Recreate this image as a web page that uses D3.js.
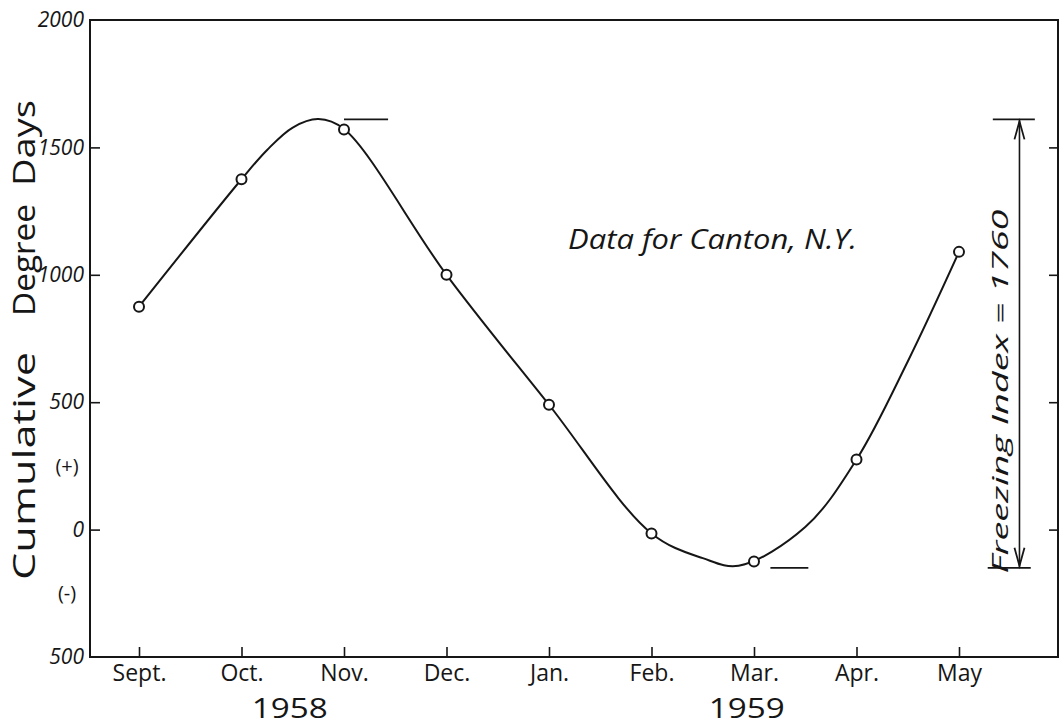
<!DOCTYPE html>
<html>
<head>
<meta charset="utf-8">
<script src="https://cdn.jsdelivr.net/npm/d3@7"></script>
<style>
  body { margin: 0; background: #fff; }
  text { font-family: "Open Sans", "DejaVu Sans", sans-serif; fill: #161616; }
</style>
</head>
<body>
<script>
const width = 1059;
const height = 728;
const frame = {left: 90, right: 1058, top: 20, bottom: 657};

const months = ["Sept.", "Oct.", "Nov.", "Dec.", "Jan.", "Feb.", "Mar.", "Apr.", "May"];
const values = [875, 1375, 1570, 1000, 490, -15, -125, 275, 1090];
// the hand drawn curve: month position -> degree days
const curvePos = [0, 1, 1.25, 1.5, 1.75, 2, 3, 4, 5, 5.5, 5.85, 6.5, 7, 7.5, 8];
const curveVal = [875, 1375, 1490, 1578, 1611, 1572, 1000, 490, -15, -112, -142, 10, 275, 660, 1090];
const yTicks = [-500, 0, 500, 1000, 1500, 2000];
const yTickLabels = ["500", "0", "500", "1000", "1500", "2000"];
const signValues = [250, -250];
const signLabels = ["(+)", "(-)"];
const years = ["1958", "1959"];
const yearPos = [1.47, 5.93];
const peak = 1610;
const trough = -150;
const freezingIndex = 1760;

const x = d3.scaleLinear().domain([0, 8]).range([139, 959]);
const y = d3.scaleLinear().domain([-500, 2000]).range([frame.bottom, frame.top]);

const svg = d3.select('body').append('svg')
  .attr('width', width).attr('height', height);

// frame
svg.append('rect')
  .attr('x', frame.left).attr('y', frame.top)
  .attr('width', frame.right - frame.left).attr('height', frame.bottom - frame.top)
  .attr('fill', 'none').attr('stroke', '#161616').attr('stroke-width', 2);

// bottom axis, ticks pointing up
const xAxis = g => g
  .attr('transform', `translate(0,${frame.bottom})`)
  .call(d3.axisBottom(x).tickValues(d3.range(months.length))
    .tickFormat(i => months[i]).tickSizeInner(-10).tickSizeOuter(0).tickPadding(8))
  .call(g => g.select('.domain').remove())
  .call(g => g.selectAll('line').attr('stroke', '#161616').attr('stroke-width', 1.6))
  .call(g => g.selectAll('text').attr('font-size', 23).attr('fill', '#161616'));

// left axis
const yAxis = g => g
  .attr('transform', `translate(${frame.left},0)`)
  .call(d3.axisLeft(y).tickValues(yTicks)
    .tickFormat((d, i) => yTickLabels[i]).tickSizeInner(-10).tickSizeOuter(0).tickPadding(6))
  .call(g => g.select('.domain').remove())
  .call(g => g.selectAll('.tick line').filter(d => d === -500 || d === 2000).remove())
  .call(g => g.selectAll('line').attr('stroke', '#161616').attr('stroke-width', 1.6))
  .call(g => g.selectAll('text').attr('font-size', 21).attr('font-style', 'italic').attr('fill', '#161616'));

// right axis ticks
const yAxisRight = g => g
  .attr('transform', `translate(${frame.right},0)`)
  .call(d3.axisRight(y).tickValues([0, 500, 1000, 1500]).tickSizeInner(-9).tickSizeOuter(0).tickFormat(''))
  .call(g => g.select('.domain').remove())
  .call(g => g.selectAll('line').attr('stroke', '#161616').attr('stroke-width', 1.6));

svg.append('g').call(xAxis);
svg.append('g').call(yAxis);
svg.append('g').call(yAxisRight);

// (+) and (-)
svg.append('g').selectAll('text')
  .data(signValues)
  .join('text')
  .attr('x', 67).attr('y', d => y(d)).attr('dy', '0.34em')
  .attr('text-anchor', 'middle').attr('font-size', 20)
  .text((d, i) => signLabels[i]);

// years
svg.append('g').selectAll('text')
  .data(years)
  .join('text')
  .attr('x', (d, i) => x(yearPos[i])).attr('y', 718)
  .attr('text-anchor', 'middle').attr('font-size', 28)
  .attr('textLength', 76).attr('lengthAdjust', 'spacingAndGlyphs')
  .text(d => d);

// y title
const titleWords = [
  {t: 'Cumulative', c: 466, len: 228},
  {t: 'Degree', c: 260, len: 112},
  {t: 'Days', c: 143, len: 86}
];
svg.append('g').selectAll('text')
  .data(titleWords)
  .join('text')
  .attr('transform', d => `translate(35,${d.c}) rotate(-90)`)
  .attr('text-anchor', 'middle').attr('font-size', 31)
  .attr('textLength', d => d.len).attr('lengthAdjust', 'spacingAndGlyphs')
  .text(d => d.t);

// curve
const line = d3.line()
  .x(d => x(d[0]))
  .y(d => y(d[1]))
  .curve(d3.curveCatmullRom.alpha(0.5));

svg.append('path')
  .datum(curvePos.map((p, i) => [p, curveVal[i]]))
  .attr('fill', 'none')
  .attr('stroke', '#161616')
  .attr('stroke-width', 2)
  .attr('stroke-linejoin', 'round')
  .attr('d', line);

// data points
svg.append('g').selectAll('circle')
  .data(values)
  .join('circle')
  .attr('cx', (d, i) => x(i))
  .attr('cy', d => y(d))
  .attr('r', 5)
  .attr('fill', '#fff')
  .attr('stroke', '#161616')
  .attr('stroke-width', 2);

// peak and trough marks
const marks = [
  {v: peak, x0: 2.0, x1: 2.43},
  {v: trough, x0: 6.16, x1: 6.53},
  {v: peak, x0: 8.33, x1: 8.74},
  {v: trough, x0: 8.28, x1: 8.7}
];
svg.append('g').selectAll('line')
  .data(marks)
  .join('line')
  .attr('x1', d => x(d.x0)).attr('x2', d => x(d.x1))
  .attr('y1', d => y(d.v)).attr('y2', d => y(d.v))
  .attr('stroke', '#161616').attr('stroke-width', 1.8);

// freezing index arrow
const ax = x(8.59);
svg.append('line')
  .attr('x1', ax).attr('x2', ax)
  .attr('y1', y(peak) + 1).attr('y2', y(trough) - 1)
  .attr('stroke', '#161616').attr('stroke-width', 1.6);

const head = d3.line();
svg.append('path')
  .attr('d', head([[ax - 5, y(peak) + 20], [ax, y(peak) + 2], [ax + 5, y(peak) + 20]]))
  .attr('fill', 'none').attr('stroke', '#161616').attr('stroke-width', 1.8);
svg.append('path')
  .attr('d', head([[ax - 5, y(trough) - 20], [ax, y(trough) - 2], [ax + 5, y(trough) - 20]]))
  .attr('fill', 'none').attr('stroke', '#161616').attr('stroke-width', 1.8);

svg.append('text')
  .attr('transform', `translate(1008,${(y(peak) + y(trough)) / 2 + 48}) rotate(-90)`)
  .attr('text-anchor', 'middle').attr('font-size', 22).attr('font-style', 'italic')
  .attr('textLength', 364).attr('lengthAdjust', 'spacingAndGlyphs')
  .text(`Freezing Index = ${freezingIndex}`);

// note
svg.append('text')
  .attr('x', 568).attr('y', 249)
  .attr('font-size', 27).attr('font-style', 'italic')
  .attr('textLength', 289).attr('lengthAdjust', 'spacingAndGlyphs')
  .text('Data for Canton, N.Y.');
</script>
</body>
</html>
